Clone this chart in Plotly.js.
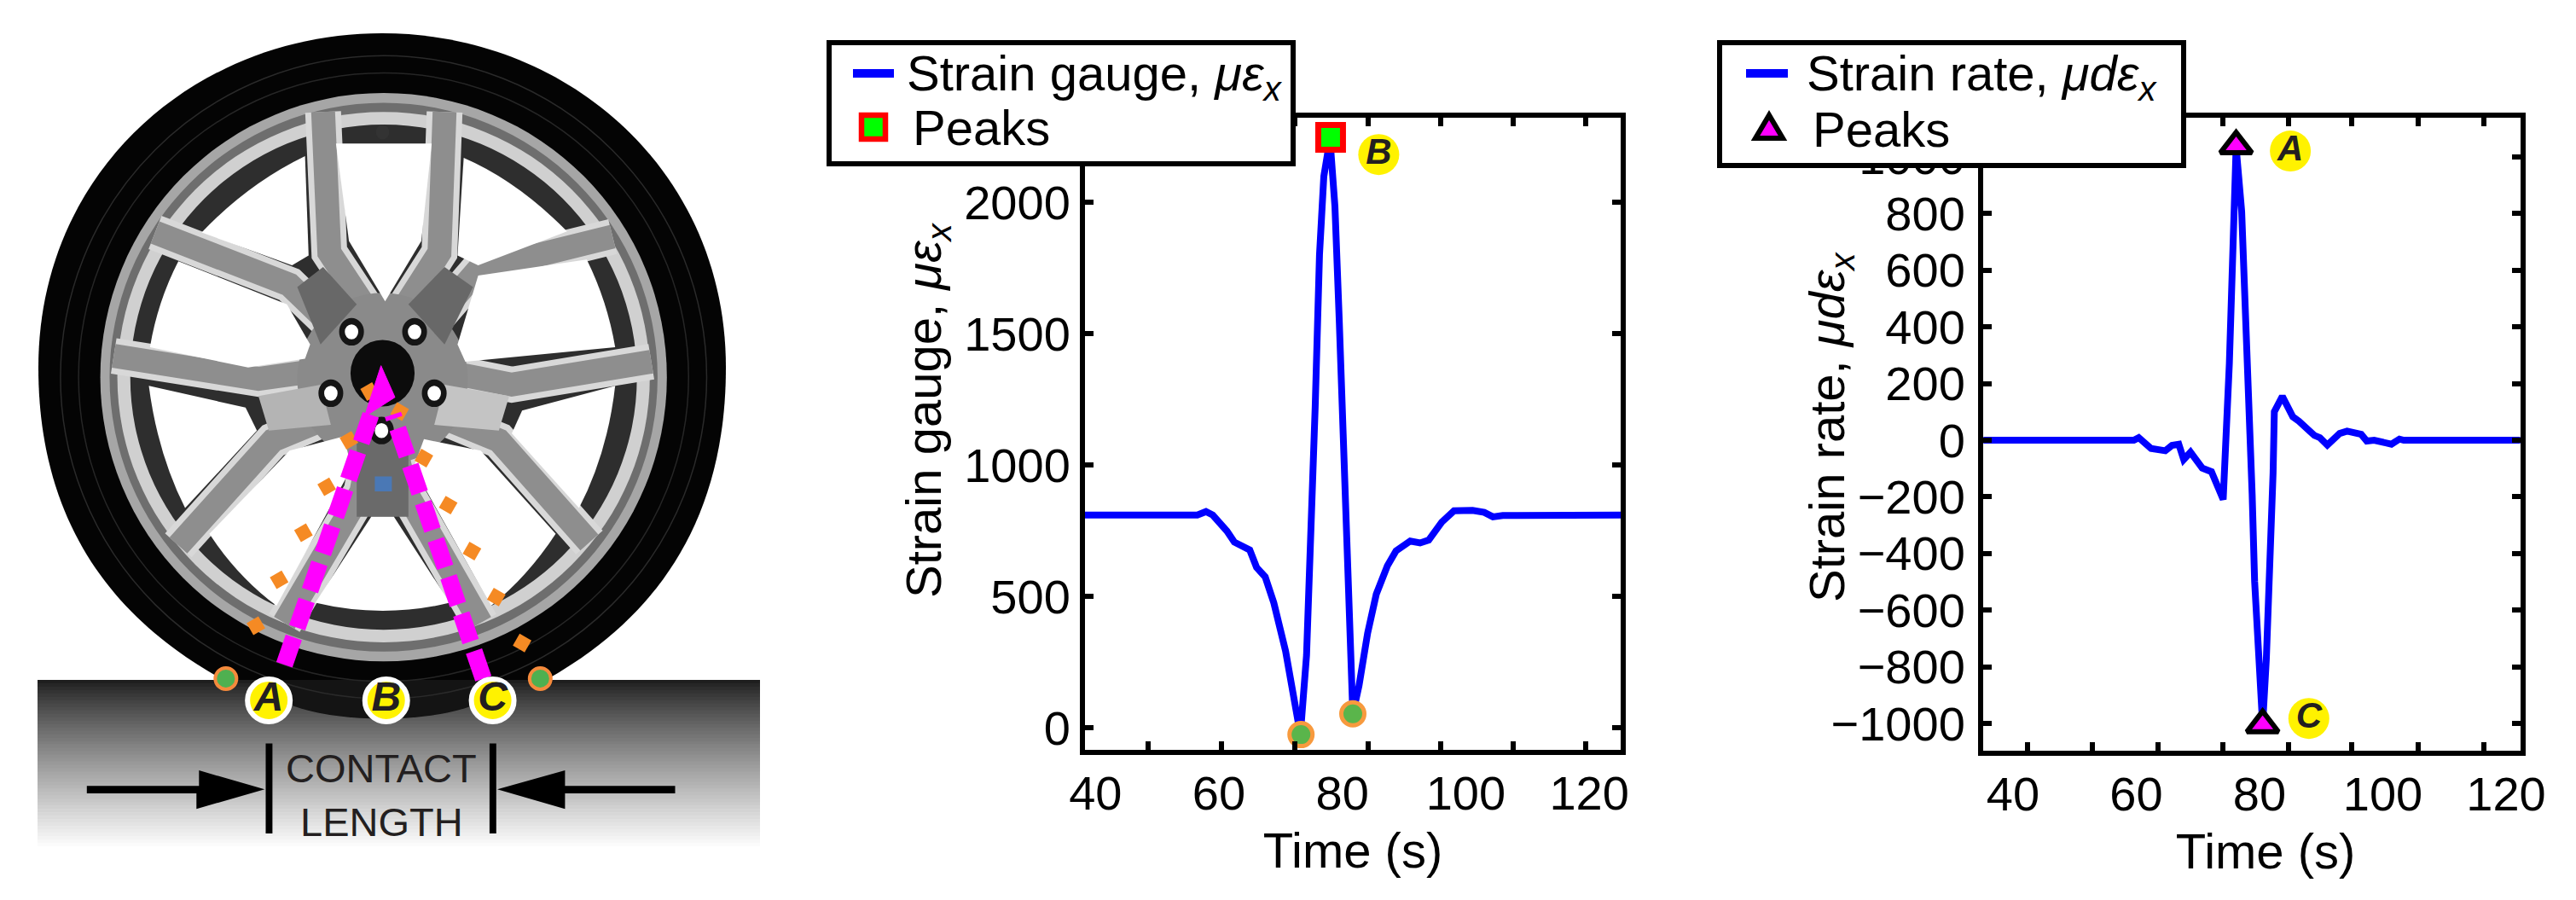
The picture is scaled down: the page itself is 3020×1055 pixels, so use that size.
<!DOCTYPE html>
<html><head><meta charset="utf-8">
<script src="https://cdn.plot.ly/plotly-3.0.1.min.js"></script>
<style>html,body{margin:0;padding:0;background:#fff}#c{width:3020px;height:1055px}</style>
</head><body><div id="c"></div>
<script>
// ---- Chart data ----
const gaugeTime = [38.3,49,56.5,57.9,59,61.3,62.5,65,66.1,67.5,68.9,70.8,72.1,73.2,74.2,74.9,75.6,76.3,77,78,78.8,79.5,80,80.4,81.1,81.7,82.7,84.1,85.5,87.3,88.7,91,92.6,94,96.1,98.1,101.1,103,104.4,106,125.1];
const gaugeValue = [810,810,810,823,810,749,707,677,611,575,476,293,128,-25,277,724,1221,1800,2098,2240,1984,1551,1221,807,393,54,161,361,509,617,674,711,704,715,783,826,828,820,803,808,810];
const gaugeTroughTime = [73.3,81.7];
const gaugeTroughValue = [-25,54];
const gaugePeakTime = [78.1];
const gaugePeakValue = [2246];
const rateTime = [35.2,52.5,59.6,60.4,62.4,64.7,65.8,66.9,67.7,68.8,70.7,72.2,74.1,75.1,76.2,77.1,77.8,78.3,78.8,79.2,79.9,80.5,81.1,81.8,82.2,82.4,83.7,85.4,86.4,88.9,89.8,91,93,94.2,96.5,97.4,98.6,101.4,102.7,103.4,122.3];
const rateValue = [0,0,0,9,-29,-37,-18,-14,-68,-42,-98,-111,-209,270,1035,808,424,117,-190,-498,-774,-1005,-774,-421,-114,101,155,83,67,17,9,-17,24,32,21,-3,0,-14,4,0,0];
const ratePeakTime = [76.2,80.5];
const ratePeakValue = [1039,-1005];
const gaugeTickLabels = [40,60,80,100,120];
const gaugeYLabels = [0,500,1000,1500,2000];
const gaugeTickMarks = [48.48,60.37,72.26,84.15,95.9,107.7,119.4];
const rateTickMarks = [42.35,52.9,63.5,74,84.7,95,105.8,116.4];
const rateYLabels = [-1000,-800,-600,-400,-200,0,200,400,600,800,1000];
const gaugeLetterTime=[85.9], gaugeLetterValue=[2181], gaugeLetterText=['B'];
const rateLetterTime=[85,88], rateLetterValue=[1021,-982], rateLetterText=['A','C'];
const gaugeName='Strain gauge, <i>με</i><sub><i>x</i></sub>', rateName='Strain rate, <i>μdε</i><sub><i>x</i></sub>', peakName='Peaks', timeName='Time (s)';

// ---- Illustration outline, in crop coordinates ----
const sx = x => x/1.65, sy = y => y/1.486;
const orangeLeft = [[495,1090],[540,1010],[587,928],[632,848],[675,767],[715,682]];
const orangeRight = [[1010,1120],[960,1040],[913,960],[867,880],[820,798],[773,717]];
const contactDots = [[437,1182],[1045,1182]];
const wheelLetters = [[520,1220,'A'],[747,1220,'B'],[953,1220,'C']];
const spokes = [
 [[625,195],[637,440],[725,560]],[[860,195],[850,440],[765,560]],
 [[300,405],[560,496],[680,600]],[[1185,412],[925,470],[800,600]],
 [[220,620],[500,660],[660,640]],[[1260,630],[990,670],[820,640]],
 [[345,950],[528,767],[680,710]],[[1140,945],[965,767],[810,710]],
 [[550,1085],[699,857],[720,760]],[[930,1085],[785,857],[760,760]]];
const windows = [
 'M650,250 L835,250 L815,420 L745,525 L675,420 Z',
 'M390,405 Q480,320 590,272 L597,445 L565,462 Z',
 'M897,275 Q1000,315 1097,403 L925,462 L885,445 Z',
 'M345,455 L555,530 L600,600 L590,625 L480,640 L290,605 Q305,525 345,455 Z',
 'M1135,452 L925,480 L885,600 L900,630 L1190,605 Q1175,525 1135,452 Z',
 'M288,672 L475,710 L497,750 L358,885 Q305,790 288,672 Z',
 'M1190,672 L1010,715 L990,755 L1120,885 Q1175,790 1190,672 Z',
 'M405,930 L560,785 L665,760 L680,815 L535,1055 Q460,1005 405,930 Z',
 'M1075,930 L930,785 L820,765 L800,815 L950,1055 Q1020,1005 1075,930 Z',
 'M718,900 L762,900 L870,1050 Q740,1078 610,1050 Z'];
const lugs = [[680,578],[802,578],[640,685],[840,685],[738,750]];

const scalePath = d => d.replace(/(-?\d+),(-?\d+)/g,(m,a,b)=>sx(+a).toFixed(1)+','+sy(+b).toFixed(1));
const shapes = [];
const base = {xref:'x3',yref:'y3',layer:'below'};
function ell(cx,cy,rx,ry,fill,line,lw){shapes.push({...base,type:'circle',x0:sx(cx-rx),x1:sx(cx+rx),y0:sy(cy-ry),y1:sy(cy+ry),fillcolor:fill,line:{color:line||fill,width:lw||0}});}
function path(d,fill,line,lw){shapes.push({...base,type:'path',path:scalePath(d),fillcolor:fill||'rgba(0,0,0,0)',line:{color:line||'rgba(0,0,0,0)',width:lw||0}});}
function rectPx(x0,y0,x1,y1,fill){shapes.push({...base,type:'rect',x0,x1,y0,y1,fillcolor:fill,line:{width:0}});}

// ground gradient
const gTop=797, gBot=996, gSteps=50;
for(let i=0;i<gSteps;i++){
  const f=i/(gSteps-1), c=Math.round(30+225*Math.pow(f,0.85));
  rectPx(44,gTop+(gBot-gTop)*i/gSteps,891,gTop+(gBot-gTop)*(i+1)/gSteps+0.6,`rgb(${c},${c},${c})`);
}
ell(740,1190,225,62,'#141414');
// tyre and rim
shapes.push({...base,type:'path',path:`M45,${sy(640)} C45,200 230,39 448,39 C665,39 851,200 851,${sy(640)} C851,620 760,730 640,797 L262,797 C140,730 45,620 45,${sy(640)} Z`,fillcolor:'#040404',line:{width:0}});
ell(742,657,625,560,'rgba(0,0,0,0)','#2a2a2a',1.5);
ell(742,657,590,530,'rgba(0,0,0,0)','#262626',1.5);
ell(742,657,548,495,'#a6a6a6');
ell(742,657,530,478,'#6e6e6e');
ell(742,657,515,462,'#d0d0d0');
ell(742,657,490,440,'#2e2e2e');
const spokePath = s => 'M'+s.map(p=>p[0]+','+p[1]).join(' L');
spokes.forEach(s=>path(spokePath(s),null,'#d8d8d8',42));
spokes.forEach(s=>path(spokePath(s),null,'#8e8e8e',28));
ell(740,660,165,150,'#8a8a8a');
path('M625,465 L690,530 L620,600 L575,500 Z','#686868');
path('M860,465 L915,500 L860,600 L790,530 Z','#686868');
path('M500,690 L620,670 L640,740 L520,750 Z','#b4b4b4');
path('M985,690 L860,670 L840,740 L965,750 Z','#c4c4c4');
path('M690,760 L790,760 L790,900 L690,900 Z','#6a6a6a');
windows.forEach(w=>path(w,'#ffffff'));
lugs.forEach(l=>{ell(l[0],l[1],24,24,'#151515');ell(l[0],l[1],13,13,'#ffffff');});
ell(740,650,62,58,'#0c0c0c');
ell(740,230,13,13,'#333333');
path('M725,830 L758,830 L758,856 L725,856 Z','#4a78b5');
// contact-length marks
path('M514,1295 L527,1295 L527,1452 L514,1452 Z','#000000');
path('M947,1295 L960,1295 L960,1452 L947,1452 Z','#000000');
path('M168,1369 L385,1369 L385,1342 L512,1375 L380,1409 L380,1382 L168,1382 Z','#000000');
path('M1306,1369 L1093,1369 L1093,1342 L962,1375 L1093,1409 L1093,1382 L1306,1382 Z','#000000');

const W=3020,H=1055;
const px=x=>x/W, py=y=>1-y/H;
const TF = 'Liberation Sans, Arial, sans-serif';
const F = {family:TF,size:56,color:'#000000'};
const TT = {family:TF,size:58,color:'#000000'};
const BLUE = '#0000ff';

// legend boxes, on top of the axes
const pap = {xref:'paper',yref:'paper',layer:'above'};
function boxP(x0,y0,x1,y1,fill,col,lw){shapes.push({...pap,type:'rect',x0:px(x0),x1:px(x1),y0:py(y0),y1:py(y1),fillcolor:fill,line:{color:col,width:lw}});}
function lineP(x0,x1,y,col,lw){shapes.push({...pap,type:'line',x0:px(x0),x1:px(x1),y0:py(y),y1:py(y),line:{color:col,width:lw}});}
boxP(972,50,1516,192,'#ffffff','#000000',6);
lineP(1000,1048,86,BLUE,10);
boxP(1010,135,1038,163,'#00ff00','#ff0000',6.5);
boxP(2016,50,2560,194,'#ffffff','#000000',6);
lineP(2047,2096,86,BLUE,10);
shapes.push({...pap,type:'path',path:`M${px(2074)},${py(135)} L${px(2058)},${py(162)} L${px(2090)},${py(162)} Z`,fillcolor:'#ff00ff',line:{color:'#000000',width:6}});

const letterMarker = {size:48,color:'#fff200',line:{width:0}};
const letterFont = {family:TF,size:42,color:'#231f20',weight:'bold',style:'italic'};

const traces = [
 {x:gaugeTime,y:gaugeValue,xaxis:'x',yaxis:'y',mode:'lines',name:'Strain gauge',showlegend:false,line:{color:BLUE,width:8},hoverinfo:'skip'},
 {x:gaugeTroughTime,y:gaugeTroughValue,xaxis:'x',yaxis:'y',mode:'markers',showlegend:false,marker:{symbol:'circle',size:27,color:'#5ab54b',line:{color:'#f79a3e',width:5}}},
 {x:gaugePeakTime,y:gaugePeakValue,xaxis:'x',yaxis:'y',mode:'markers',name:'Peaks',showlegend:false,marker:{symbol:'square',size:29,color:'#00ff00',line:{color:'#ff0000',width:7}}},
 {x:gaugeLetterTime,y:gaugeLetterValue,text:gaugeLetterText,xaxis:'x',yaxis:'y',mode:'markers+text',textposition:'middle center',showlegend:false,marker:letterMarker,textfont:letterFont},
 {x:rateTime,y:rateValue,xaxis:'x2',yaxis:'y2',mode:'lines',name:'Strain rate',showlegend:false,line:{color:BLUE,width:8},hoverinfo:'skip'},
 {x:ratePeakTime,y:ratePeakValue,xaxis:'x2',yaxis:'y2',mode:'markers',name:'Peaks',showlegend:false,marker:{symbol:'triangle-up',size:32,color:'#ff00ff',line:{color:'#000000',width:6}}},
 {x:rateLetterTime,y:rateLetterValue,text:rateLetterText,xaxis:'x2',yaxis:'y2',mode:'markers+text',textposition:'middle center',showlegend:false,marker:letterMarker,textfont:letterFont},
 // illustration
 {x:orangeLeft.concat(orangeRight).map(p=>sx(p[0])),y:orangeLeft.concat(orangeRight).map(p=>sy(p[1])),xaxis:'x3',yaxis:'y3',mode:'markers',showlegend:false,hoverinfo:'skip',marker:{symbol:'square',size:16,color:'#f58a24',angle:orangeLeft.map(()=>-30).concat(orangeRight.map(()=>30))}},
 {x:[sx(550),sx(722)],y:[sy(1158),sy(710)],xaxis:'x3',yaxis:'y3',mode:'lines',showlegend:false,hoverinfo:'skip',line:{color:'#ff00ff',width:20,dash:'34px,12px'}},
 {x:[sx(935),sx(760)],y:[sy(1182),sy(722)],xaxis:'x3',yaxis:'y3',mode:'lines',showlegend:false,hoverinfo:'skip',line:{color:'#ff00ff',width:20,dash:'34px,12px'}},
 {x:[sx(737),sx(705),sx(764),sx(737)],y:[sy(637),sy(726),sy(692),sy(637)],xaxis:'x3',yaxis:'y3',mode:'lines',fill:'toself',fillcolor:'#ff00ff',showlegend:false,hoverinfo:'skip',line:{color:'#ff00ff',width:1}},
 {x:contactDots.map(p=>sx(p[0])),y:contactDots.map(p=>sy(p[1])),xaxis:'x3',yaxis:'y3',mode:'markers',showlegend:false,hoverinfo:'skip',marker:{size:25,color:'#4fb050',line:{color:'#f58a3c',width:4}}},
 {x:wheelLetters.map(p=>sx(p[0])),y:wheelLetters.map(p=>sy(p[1])),text:wheelLetters.map(p=>p[2]),xaxis:'x3',yaxis:'y3',mode:'markers+text',textposition:'middle center',showlegend:false,hoverinfo:'skip',marker:{size:50,color:'#fff200',line:{color:'#ffffff',width:6}},textfont:{family:TF,size:48,color:'#231f20',weight:'bold',style:'italic'}}
];

const LW=6;
const frame = {showline:true,linecolor:'#000',linewidth:LW,mirror:'ticks',showgrid:false,zeroline:false,tickfont:F,ticks:''};
const dx=(a,b)=>[a/W,b/W], dy=(t,b)=>[1-b/H,1-t/H];
const minorTicks = v=>({tickmode:'array',tickvals:v,ticks:'inside',ticklen:10,tickwidth:LW,tickcolor:'#000',showgrid:false});
const ann=(x,y,text,opt)=>({xref:'paper',yref:'paper',x:px(x),y:py(y),text,showarrow:false,font:TT,xanchor:'center',yanchor:'middle',...opt});

const layout = {
 width:W,height:H,margin:{l:0,r:0,t:0,b:0},paper_bgcolor:'#fff',plot_bgcolor:'rgba(0,0,0,0)',font:F,showlegend:false,hovermode:false,
 xaxis:{...frame,domain:dx(1272,1900),range:[38.3,125.1],anchor:'y',tickmode:'array',tickvals:gaugeTickLabels,minor:minorTicks(gaugeTickMarks),ticklabelstandoff:-3,title:{text:timeName,font:TT,standoff:18}},
 yaxis:{...frame,domain:dy(138,879),range:[-83,2321],anchor:'x',tickmode:'array',tickvals:gaugeYLabels,ticks:'inside',ticklen:10,tickwidth:LW,tickcolor:'#000',ticklabelstandoff:0},
 xaxis2:{...frame,domain:dx(2325,2955),range:[35.16,122.35],anchor:'y2',tickmode:'array',tickvals:gaugeTickLabels,minor:minorTicks(rateTickMarks),ticklabelstandoff:-3,title:{text:'&nbsp;&nbsp;'+timeName,font:TT,standoff:18}},
 yaxis2:{...frame,domain:dy(138,880),range:[-1096,1138.6],anchor:'x2',tickmode:'array',tickvals:rateYLabels,ticks:'inside',ticklen:10,tickwidth:LW,tickcolor:'#000',ticklabelstandoff:4},
 xaxis3:{domain:[0,950/W],range:[0,950],visible:false,anchor:'y3',fixedrange:true},
 yaxis3:{domain:[0,1],range:[1055,0],visible:false,anchor:'x3',fixedrange:true},
 shapes:shapes,
 annotations:[
  {xref:'x3',yref:'y3',x:sx(738),y:sy(1338),text:'CONTACT',showarrow:false,font:{family:TF,size:47,color:'#231f20'}},
  {xref:'x3',yref:'y3',x:sx(738),y:sy(1432),text:'LENGTH',showarrow:false,font:{family:TF,size:47,color:'#231f20'}},
  ann(1087,481,gaugeName,{textangle:-90}),
  ann(2146,501,rateName,{textangle:-90}),
  ann(1061,90,gaugeName,{xanchor:'left'}),
  ann(1068,149,peakName,{xanchor:'left'}),
  ann(2116,90,rateName,{xanchor:'left'}),
  ann(2123,151,peakName,{xanchor:'left'})
 ]
};
Plotly.newPlot('c',traces,layout,{staticPlot:true,displayModeBar:false});
</script></body></html>
